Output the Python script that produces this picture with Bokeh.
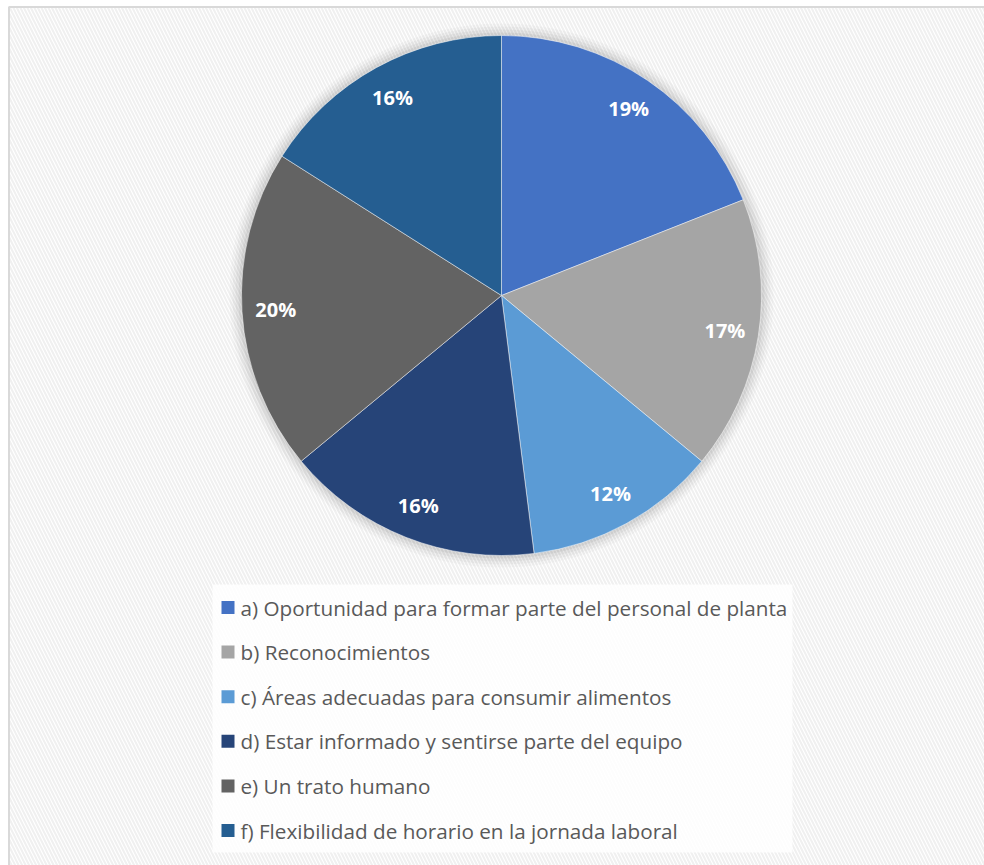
import math
from bokeh.plotting import figure
from bokeh.models import ColumnDataSource, Range1d
from bokeh.core.properties import value
from bokeh.embed import file_html
from bokeh.resources import INLINE

# ---- data ----
categories = [
    "a) Oportunidad para formar parte del personal de planta",
    "b) Reconocimientos",
    "c) Áreas adecuadas para consumir alimentos",
    "d) Estar informado y sentirse parte del equipo",
    "e) Un trato humano",
    "f) Flexibilidad de horario en la jornada laboral",
]
percentages = [19, 17, 12, 16, 20, 16]
colors = ["#4472C4", "#A5A5A5", "#5B9BD5", "#264478", "#636363", "#255E91"]

W, H = 984, 865
CX, CY, R = 501, H - 295, 260

p = figure(width=W, height=H, output_backend="svg", toolbar_location=None,
           x_range=Range1d(0, W), y_range=Range1d(0, H), min_border=0)
p.axis.visible = False
p.grid.visible = False
p.outline_line_color = None
p.background_fill_color = "white"
p.border_fill_color = "white"

# chart area background with diagonal pattern
p.quad(left=[8.5], right=[W + 5], bottom=[-5], top=[H - 6.5],
       fill_color="white", hatch_pattern="\\", hatch_color="#f0f0f0",
       hatch_scale=7, hatch_weight=2, line_color="#d9d9d9", line_width=2)

# soft shadow around pie
for dr, a in [(12, 0.025), (9, 0.03), (6, 0.04), (3, 0.05)]:
    p.circle(x=[CX], y=[CY], radius=R + dr, fill_color="black", fill_alpha=a,
             line_color=None)

total = sum(percentages)
cum = [0]
for v in percentages:
    cum.append(cum[-1] + v)
starts = [math.pi / 2 - 2 * math.pi * c / total for c in cum[:-1]]
ends = [math.pi / 2 - 2 * math.pi * c / total for c in cum[1:]]
mids = [math.pi / 2 - 2 * math.pi * (c0 + v / 2) / total for c0, v in zip(cum[:-1], percentages)]

src = ColumnDataSource(dict(start=starts, end=ends, color=colors,
                            x=[CX] * len(colors), y=[CY] * len(colors)))
p.wedge(x="x", y="y", radius=R, start_angle="start", end_angle="end",
        direction="clock", fill_color="color", line_color="white",
        line_width=0.8, line_alpha=0.6, source=src)

lr = 0.87 * R
lab = ColumnDataSource(dict(
    x=[CX + lr * math.cos(m) for m in mids],
    y=[CY + lr * math.sin(m) for m in mids],
    t=[f"{v}%" for v in percentages]))
p.text(x="x", y="y", text="t", source=lab, text_color="white",
       text_font=value("Open Sans"), text_font_style="bold",
       text_font_size="20px", text_align="center", text_baseline="middle")

# legend box
p.quad(left=[212], right=[792], bottom=[H - 852], top=[H - 584],
       fill_color="white", fill_alpha=0.85, line_color=None)

row0, step = H - 607, 44.6
leg = ColumnDataSource(dict(
    y=[row0 - i * step for i in range(len(categories))],
    xs=[227.5] * len(categories), xt=[240] * len(categories),
    c=colors, t=categories))
p.rect(x="xs", y="y", width=13, height=13, fill_color="c", line_color=None,
       source=leg)
p.text(x="xt", y="y", text="t", source=leg, text_color="#595959",
       text_font=value("Open Sans"), text_font_size="20.7px",
       text_align="left", text_baseline="middle")

open("out.html", "w").write(file_html(p, INLINE))
